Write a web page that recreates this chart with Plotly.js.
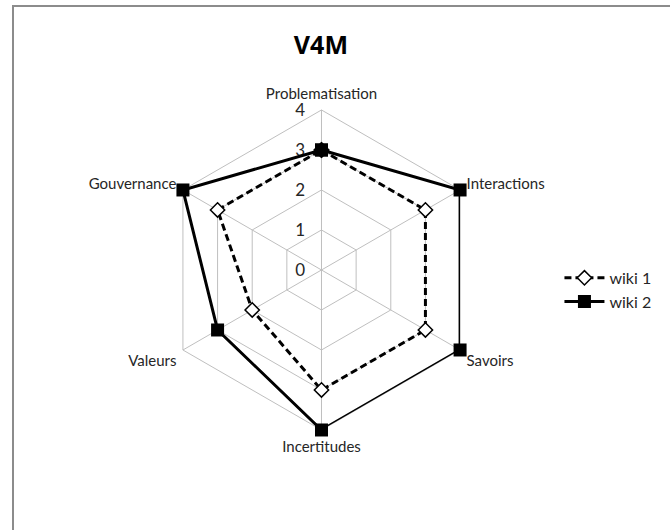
<!DOCTYPE html>
<html>
<head>
<meta charset="utf-8">
<script src="https://cdn.plot.ly/plotly-3.0.1.min.js"></script>
<style>
  body { margin: 0; background: #fff; }
  #graph { width: 670px; height: 530px; }
</style>
</head>
<body>
<div id="graph"></div>
<script>
// axes of the radar, clockwise from the top
var categories = ['Problematisation', 'Interactions', 'Savoirs', 'Incertitudes', 'Valeurs', 'Gouvernance'];
var wiki1 = [3, 3, 3, 3, 2, 3];
var wiki2 = [3, 4, 4, 4, 3, 4];
var radialTicks = [0, 1, 2, 3, 4];

// close the polygon
function closed(arr) {
  return arr.concat([arr[0]]);
}

var trace1 = {
  type: 'scatterpolar',
  r: closed(wiki1),
  theta: closed(categories),
  name: 'wiki 1',
  mode: 'lines+markers',
  line: { color: '#000', width: 3, dash: '7px,4px' },
  marker: { symbol: 'diamond', size: 11, color: '#fff', line: { color: '#000', width: 1.5 } },
  cliponaxis: false
};

var trace2 = {
  type: 'scatterpolar',
  r: closed(wiki2),
  theta: closed(categories),
  name: 'wiki 2',
  mode: 'lines+markers',
  line: { color: '#000', width: 3 },
  marker: { symbol: 'square', size: 13, color: '#000' },
  cliponaxis: false
};

var layout = {
  width: 670,
  height: 530,
  margin: { l: 0, r: 0, t: 0, b: 0 },
  paper_bgcolor: '#fff',
  font: { family: 'Lato, "Open Sans", sans-serif', size: 15, color: '#262626' },
  title: {
    text: '<b>V4M</b>',
    font: { family: '"Open Sans", Lato, sans-serif', size: 25, color: '#000' },
    x: 0.479, xanchor: 'center',
    y: 0.915, yanchor: 'middle'
  },
  showlegend: true,
  legend: {
    x: 0.835, y: 0.453, yanchor: 'middle', xanchor: 'left',
    font: { size: 16, color: '#262626' },
    itemwidth: 40
  },
  polar: {
    domain: { x: [0.2403, 0.7194], y: [0.1887, 0.7925] },
    gridshape: 'linear',
    bgcolor: '#fff',
    angularaxis: {
      direction: 'clockwise',
      rotation: 90,
      layer: 'below traces',
      linecolor: '#bfbfbf',
      linewidth: 1,
      gridcolor: '#bfbfbf',
      showline: true,
      ticks: 'outside',
      ticklen: 4,
      tickcolor: 'rgba(0,0,0,0)',
      tickfont: { size: 15, color: '#262626' }
    },
    radialaxis: {
      range: [0, 4],
      tickvals: radialTicks,
      angle: 90,
      tickangle: 90,
      side: 'counterclockwise',
      layer: 'below traces',
      showline: false,
      gridcolor: '#bfbfbf',
      ticks: 'outside',
      ticklen: 10,
      tickcolor: 'rgba(0,0,0,0)',
      tickfont: { size: 17, color: '#262626' }
    }
  },
  shapes: [{
    type: 'rect', xref: 'paper', yref: 'paper',
    x0: 13 / 670, x1: 1.01, y0: -0.01, y1: 1 - 6 / 530,
    line: { color: '#8c8c8c', width: 2 }
  }]
};

Plotly.newPlot('graph', [trace1, trace2], layout, { displayModeBar: false, staticPlot: true });
</script>
</body>
</html>
